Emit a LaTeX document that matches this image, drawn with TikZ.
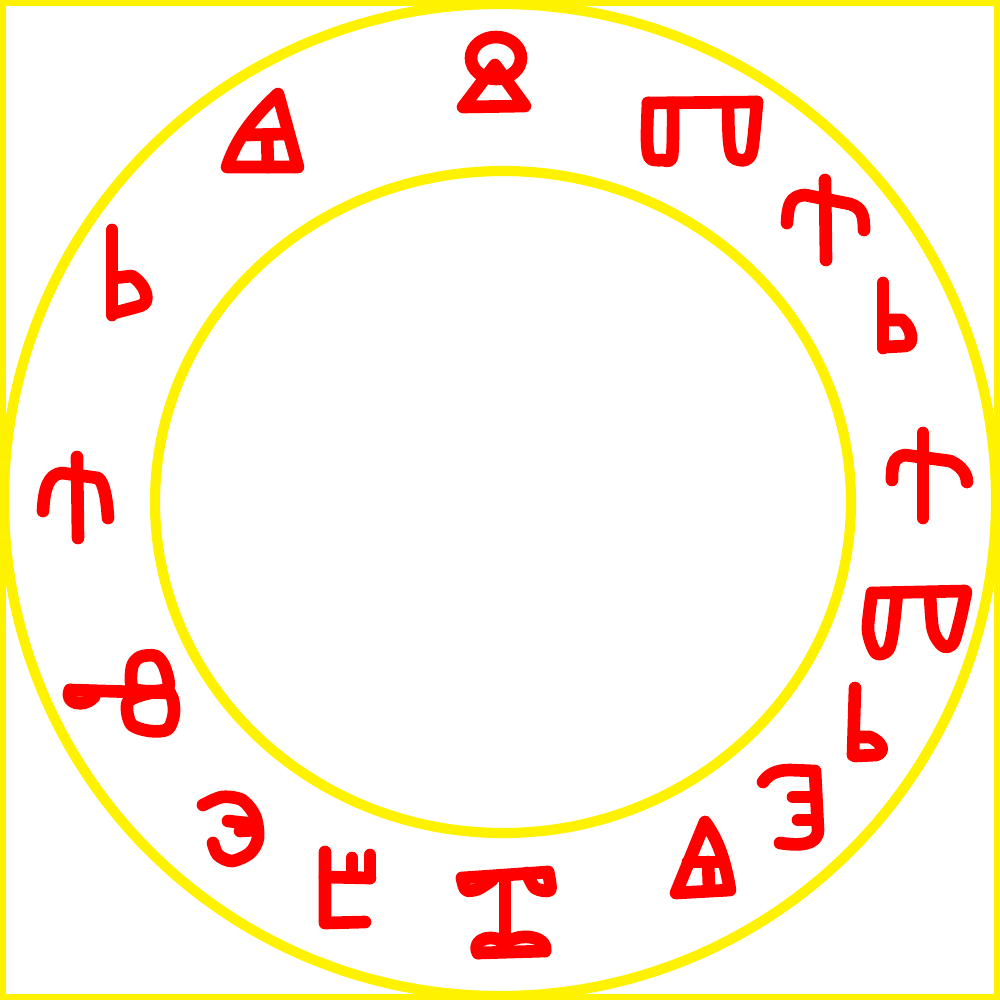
\documentclass[tikz,border=0pt]{standalone}
\usepackage{tikz}
\usepackage{xcolor}

\begin{document}
\begin{tikzpicture}[x=0.01cm, y=-0.01cm,
    ring/.style={color=yellow, line width=2.9pt},
    glyph/.style={color=red, line width=3.6pt, line cap=round, line join=round}]
    \useasboundingbox (0,0) rectangle (1000,1000);

    % Frame and rings
    \draw [color=yellow, line width=1.6pt] (3,3) rectangle (997,997);
    \draw [ring] (500,500) circle [radius=496];
    \draw [ring] (503,502) ellipse [x radius=348, y radius=331];

    % Top glyph
    \draw [glyph] (496,58) ellipse [x radius=25, y radius=21];
    \draw [glyph] (495,65) -- (463,107) -- (525,106) -- cycle;

    % A (top left)
    \draw [glyph] (298,167) -- (278,94) .. controls (252,118) and (236,140) .. (227,167) -- cycle;
    \draw [glyph] (247,135) -- (284,134);
    \draw [glyph] (267,135) -- (268,167);

    % Double loop (top right)
    \draw [glyph] (648,103) -- (757,102);
    \draw [glyph] plot [smooth] coordinates {(648,103) (647,140) (650,158) (662,160) (672,156) (673,103)};
    \draw [glyph] plot [smooth] coordinates {(728,103) (729,140) (733,157) (745,160) (752,150) (757,102)};

    % b (left)
    \draw [glyph] (112,230) -- (112,315);
    \draw [glyph] (113,278) -- (132,276) .. controls (146,285) and (152,303) .. (140,306) -- (114,313);

    % Glyphs (right, upper)
    \draw [glyph] (825,180) -- (826,260);
    \draw [glyph] (787,223) .. controls (788,205) and (790,196) .. (805,195) -- (850,204) .. controls (862,208) and (864,215) .. (864,230);
    \draw [glyph] (883,283) -- (883,348);
    \draw [glyph] (884,320) -- (902,320) .. controls (912,328) and (915,345) .. (905,346) -- (885,347);

    % Glyph (left, middle)
    \draw [glyph] (77,457) -- (78,538);
    \draw [glyph] (43,511) .. controls (44,490) and (48,474) .. (62,473) -- (98,478) .. controls (104,482) and (107,500) .. (108,518);

    % Glyphs (right, middle)
    \draw [glyph] (923,433) -- (923,518);
    \draw [glyph] (892,480) .. controls (892,468) and (892,457) .. (905,455) -- (950,461) .. controls (962,466) and (967,475) .. (967,482);
    \draw [glyph] (872,593) -- (965,591);
    \draw [glyph] plot [smooth] coordinates {(872,593) (868,630) (876,653) (888,650) (893,630) (897,593)};
    \draw [glyph] plot [smooth] coordinates {(930,594) (933,630) (943,646) (953,643) (960,620) (966,592)};

    % Glyph (left, lower)
    \draw [glyph] (70,690) -- (170,693);
    \draw [glyph] (70,690) .. controls (64,704) and (84,708) .. (94,697);
    \draw [glyph] plot [smooth cycle] coordinates {(134,689) (132,667) (140,657) (156,656) (165,668) (167,689)};
    \draw [glyph] plot [smooth cycle] coordinates {(128,702) (131,724) (150,731) (168,729) (174,712) (170,694) (150,693)};

    % Glyphs (right, lower)
    \draw [glyph] (855,688) -- (853,755);
    \draw [glyph] (855,737) -- (870,737) .. controls (882,742) and (886,752) .. (876,755) -- (855,756);
    \draw [glyph] (763,782) .. controls (768,775) and (775,770) .. (790,770) -- (815,771) -- (818,830) .. controls (818,845) and (800,846) .. (780,843);
    \draw [glyph] (793,797) -- (815,797);
    \draw [glyph] (798,820) -- (815,820);

    % Glyphs (bottom left)
    \draw [glyph] plot [smooth] coordinates {(203,805) (222,797) (242,800) (255,816) (258,838) (250,853) (232,861) (218,855) (213,843)};
    \draw [glyph] (228,821) -- (246,823);
    \draw [glyph] (240,831) -- (256,830);
    \draw [glyph] (325,852) -- (325,923) -- (365,922);
    \draw [glyph] (325,877) -- (370,878);
    \draw [glyph] (352,858) -- (352,877);
    \draw [glyph] (370,855) -- (370,878);

    % Bottom glyph
    \draw [glyph] (462,878) -- (548,872);
    \draw [glyph] plot [smooth] coordinates {(462,878) (466,890) (478,889) (492,880)};
    \draw [glyph] plot [smooth] coordinates {(527,873) (535,888) (550,890) (548,872)};
    \draw [glyph] (505,876) -- (505,945);
    \draw [glyph] (478,953) -- (545,951);
    \draw [glyph] (478,953) .. controls (470,938) and (497,932) .. (505,945);
    \draw [glyph] (505,945) .. controls (515,932) and (548,935) .. (545,951);

    % A (bottom right)
    \draw [glyph] (730,890) .. controls (725,860) and (718,840) .. (705,822) -- (676,893) -- cycle;
    \draw [glyph] (688,862) -- (718,862);
    \draw [glyph] (708,862) -- (709,887);
\end{tikzpicture}
\end{document}
